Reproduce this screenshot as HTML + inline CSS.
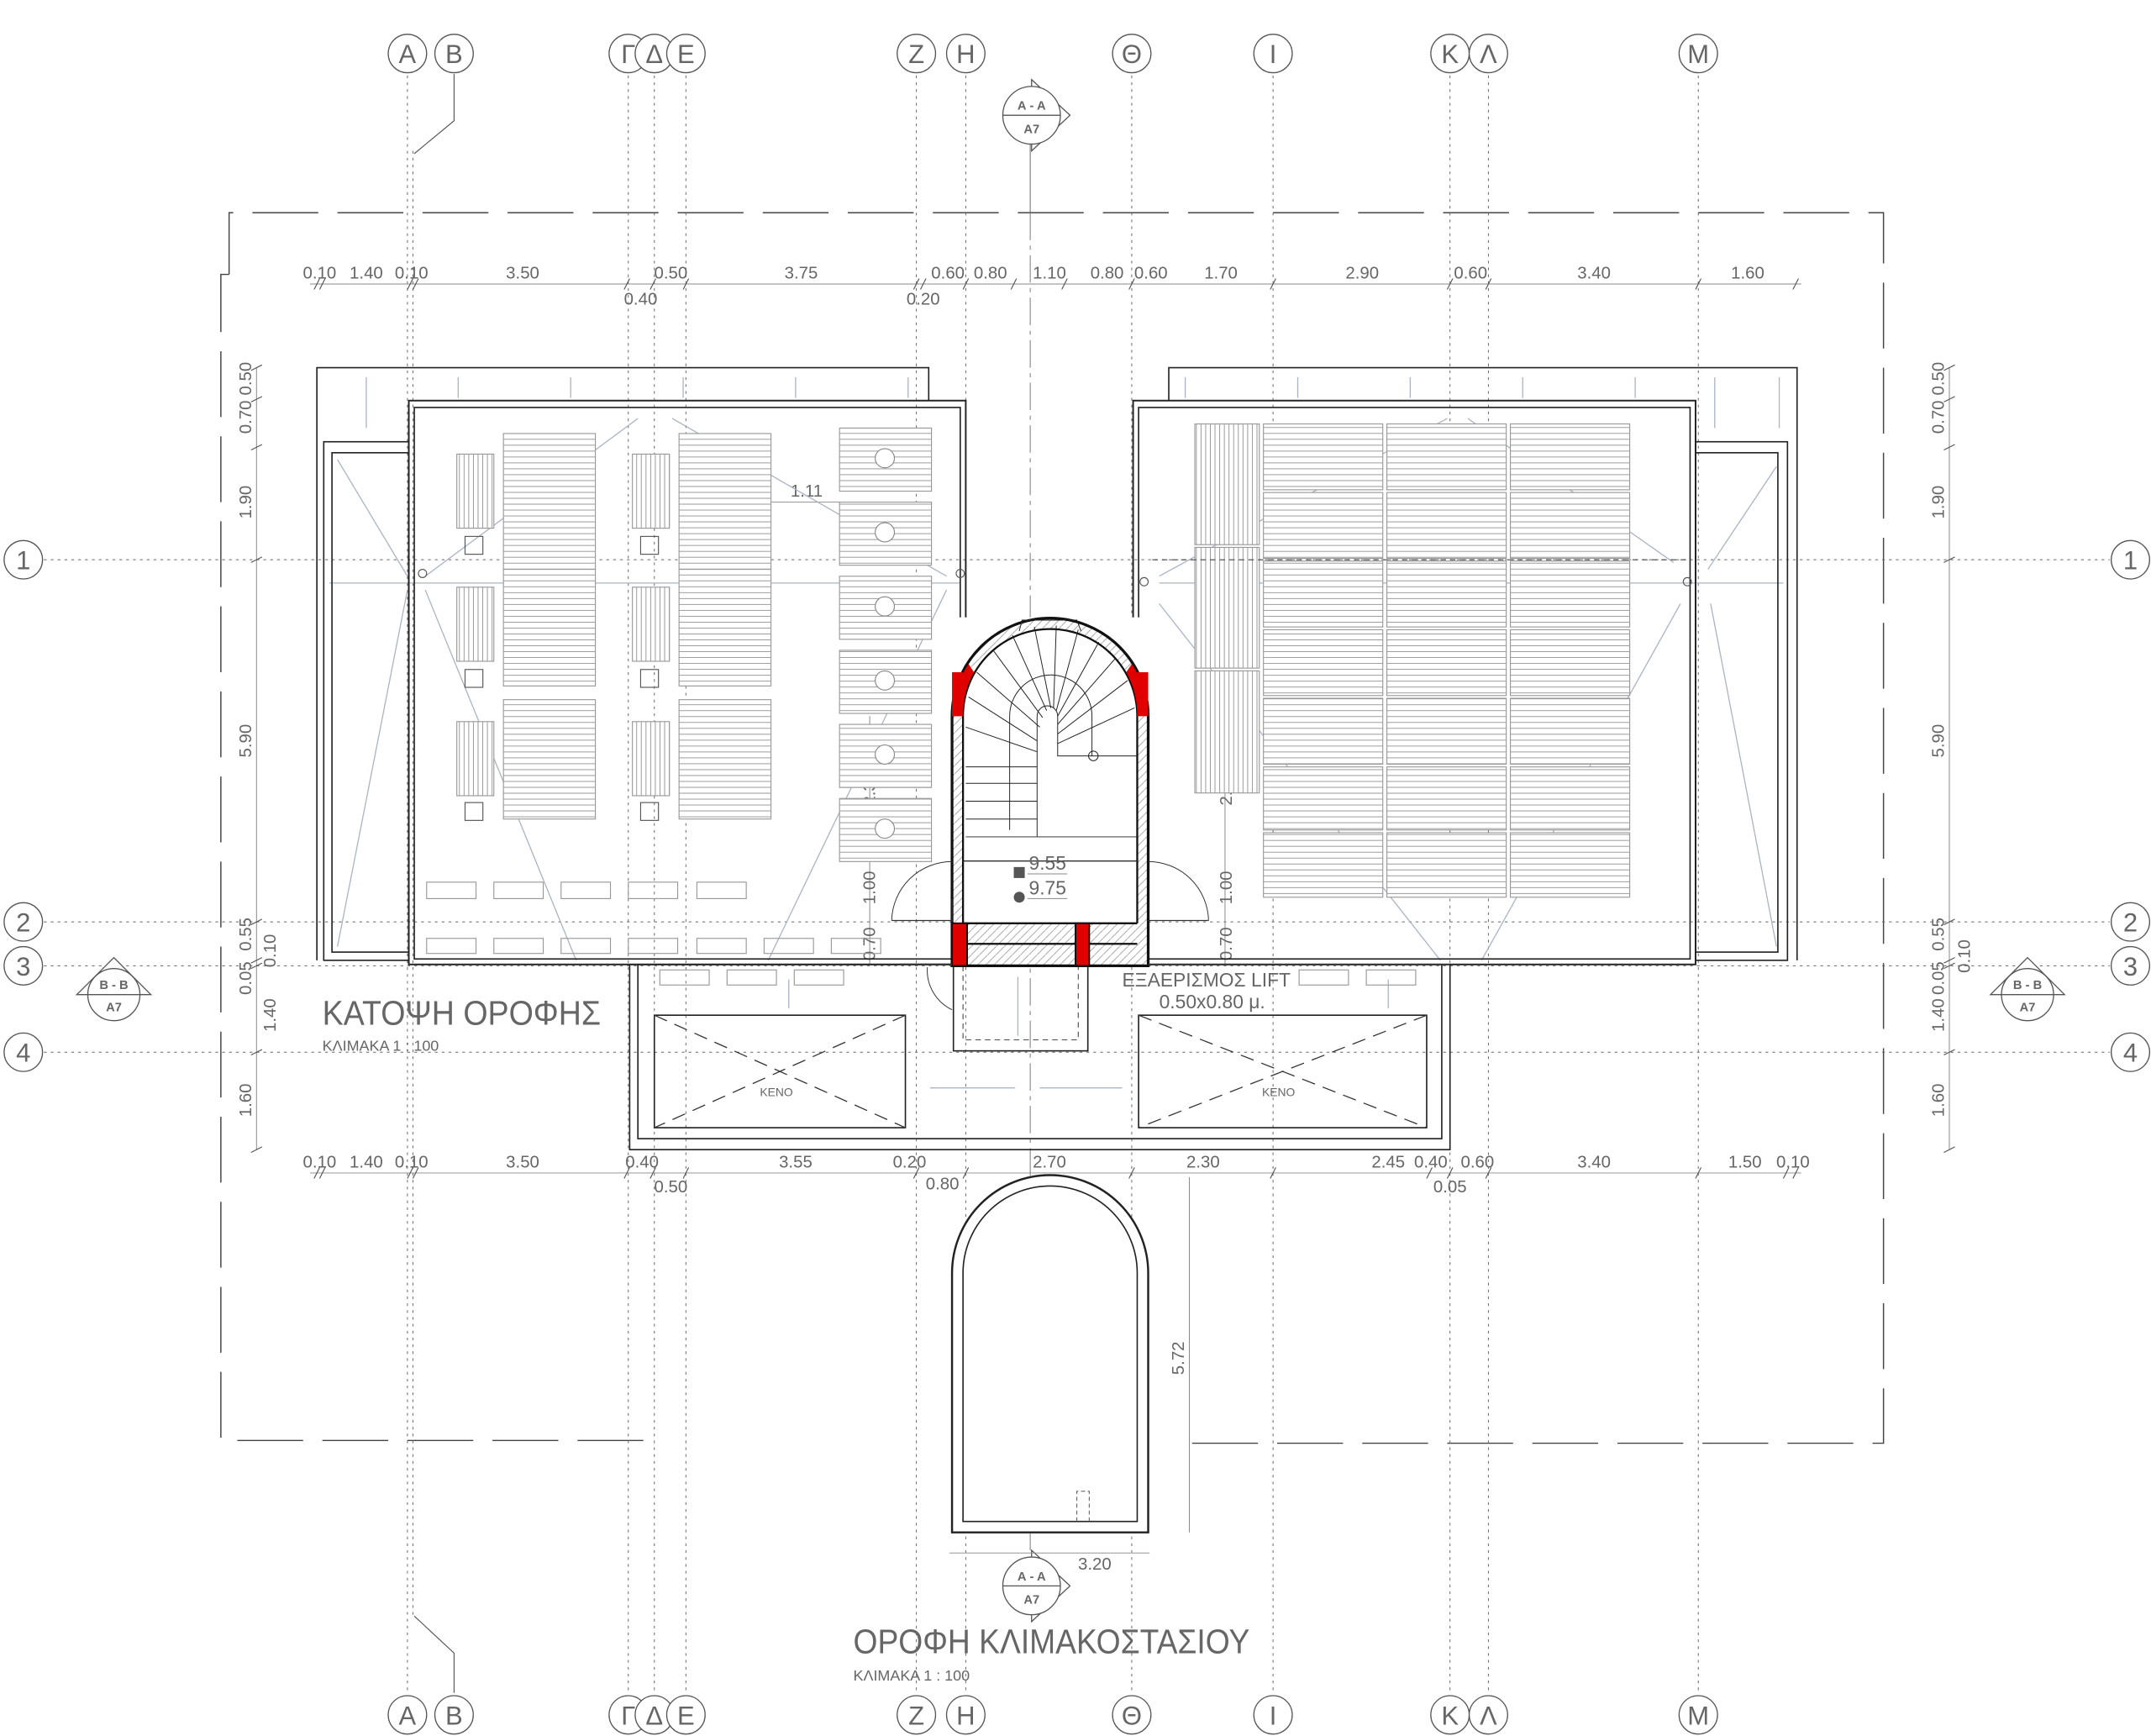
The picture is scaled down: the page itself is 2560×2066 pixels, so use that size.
<!DOCTYPE html>
<html><head><meta charset="utf-8"><style>
html,body{margin:0;padding:0;background:#fff}
svg{display:block}
text{font-family:"Liberation Sans","DejaVu Sans",sans-serif;fill:#666}
</style></head><body>
<svg width="2560" height="2066" viewBox="0 0 1568 1265.4" xmlns="http://www.w3.org/2000/svg">
<defs>
<pattern id="hs" patternUnits="userSpaceOnUse" width="8" height="4.3"><rect width="8" height="4.3" fill="#fff"/><line x1="0" y1="2" x2="8" y2="2" stroke="#999" stroke-width="0.6"/></pattern>
<pattern id="vs" patternUnits="userSpaceOnUse" width="3.4" height="8"><rect width="3.4" height="8" fill="#fff"/><line x1="1.7" y1="0" x2="1.7" y2="8" stroke="#999" stroke-width="0.6"/></pattern>
<pattern id="hatch" patternUnits="userSpaceOnUse" width="6" height="6"><line x1="0" y1="6" x2="6" y2="0" stroke="#999" stroke-width="0.5"/></pattern>
</defs>
<rect width="1568" height="1265.4" fill="#fff"/>

<g fill="none" stroke="#444" stroke-width="0.9" stroke-dasharray="48 14">
<polyline points="167,200 167,155 1373,155 1373,1052 858,1052"/>
<polyline points="167,200 161,200 161,1050 470,1050"/>
</g>

<g stroke="#666" stroke-width="0.6" stroke-dasharray="2 3" fill="none">
<line x1="297" y1="55" x2="297" y2="1234"/><line x1="301" y1="110" x2="301" y2="1180"/>
<line x1="458" y1="55" x2="458" y2="1234"/><line x1="477" y1="55" x2="477" y2="1234"/><line x1="500" y1="55" x2="500" y2="1234"/>
<line x1="668" y1="55" x2="668" y2="1234"/><line x1="704" y1="55" x2="704" y2="1234"/>
<line x1="825" y1="55" x2="825" y2="1234"/><line x1="928" y1="55" x2="928" y2="1234"/>
<line x1="1057" y1="55" x2="1057" y2="1234"/><line x1="1085" y1="55" x2="1085" y2="1234"/><line x1="1238" y1="55" x2="1238" y2="1234"/>
<line x1="32" y1="408" x2="1538" y2="408"/><line x1="32" y1="672" x2="1538" y2="672"/>
<line x1="32" y1="704" x2="1538" y2="704"/><line x1="32" y1="767" x2="1538" y2="767"/>
</g>
<line x1="751" y1="100" x2="751" y2="155" stroke="#666" stroke-width="0.6"/>
<line x1="751" y1="155" x2="751" y2="1130" stroke="#777" stroke-width="0.6" stroke-dasharray="20 4 3 4"/>
<polyline points="331,54 331,88 302,112" fill="none" stroke="#555" stroke-width="0.7"/>
<polyline points="331,1234 331,1205 302,1178" fill="none" stroke="#555" stroke-width="0.7"/>

<g fill="#fff" stroke="#555" stroke-width="0.8">
<circle cx="297" cy="39" r="14"/><circle cx="331" cy="39" r="14"/><circle cx="458" cy="39" r="14"/><circle cx="477" cy="39" r="14"/><circle cx="500" cy="39" r="14"/><circle cx="668" cy="39" r="14"/><circle cx="704" cy="39" r="14"/><circle cx="825" cy="39" r="14"/><circle cx="928" cy="39" r="14"/><circle cx="1057" cy="39" r="14"/><circle cx="1085" cy="39" r="14"/><circle cx="1238" cy="39" r="14"/>
<circle cx="297" cy="1250" r="14"/><circle cx="331" cy="1250" r="14"/><circle cx="458" cy="1250" r="14"/><circle cx="477" cy="1250" r="14"/><circle cx="500" cy="1250" r="14"/><circle cx="668" cy="1250" r="14"/><circle cx="704" cy="1250" r="14"/><circle cx="825" cy="1250" r="14"/><circle cx="928" cy="1250" r="14"/><circle cx="1057" cy="1250" r="14"/><circle cx="1085" cy="1250" r="14"/><circle cx="1238" cy="1250" r="14"/>
<circle cx="17" cy="408" r="14"/><circle cx="17" cy="672" r="14"/><circle cx="17" cy="704" r="14"/><circle cx="17" cy="767" r="14"/>
<circle cx="1553" cy="408" r="14"/><circle cx="1553" cy="672" r="14"/><circle cx="1553" cy="704" r="14"/><circle cx="1553" cy="767" r="14"/>
</g>
<g font-size="19" text-anchor="middle">
<text x="297" y="46">Α</text><text x="331" y="46">Β</text><text x="458" y="46">Γ</text><text x="477" y="46">Δ</text><text x="500" y="46">Ε</text><text x="668" y="46">Ζ</text><text x="704" y="46">Η</text><text x="825" y="46">Θ</text><text x="928" y="46">Ι</text><text x="1057" y="46">Κ</text><text x="1085" y="46">Λ</text><text x="1238" y="46">Μ</text>
<text x="297" y="1257">Α</text><text x="331" y="1257">Β</text><text x="458" y="1257">Γ</text><text x="477" y="1257">Δ</text><text x="500" y="1257">Ε</text><text x="668" y="1257">Ζ</text><text x="704" y="1257">Η</text><text x="825" y="1257">Θ</text><text x="928" y="1257">Ι</text><text x="1057" y="1257">Κ</text><text x="1085" y="1257">Λ</text><text x="1238" y="1257">Μ</text>
<text x="17" y="415">1</text><text x="17" y="679">2</text><text x="17" y="711">3</text><text x="17" y="774">4</text>
<text x="1553" y="415">1</text><text x="1553" y="679">2</text><text x="1553" y="711">3</text><text x="1553" y="774">4</text>
</g>

<g stroke="#555" stroke-width="0.8" fill="#fff">
<polygon points="752,58 780,84 752,110"/><circle cx="752" cy="84" r="21"/><line x1="731" y1="84" x2="773" y2="84"/>
<polygon points="752,1130 780,1156 752,1182"/><circle cx="752" cy="1156" r="21"/><line x1="731" y1="1156" x2="773" y2="1156"/>
<polygon points="56,725 83,698 110,725"/><circle cx="83" cy="725" r="19"/><line x1="64" y1="725" x2="102" y2="725"/>
<polygon points="1451,725 1478,698 1505,725"/><circle cx="1478" cy="725" r="19"/><line x1="1459" y1="725" x2="1497" y2="725"/>
</g>
<g font-size="9" text-anchor="middle" style="font-weight:bold">
<text x="752" y="80">Α - Α</text><text x="752" y="97">Α7</text>
<text x="752" y="1152">Α - Α</text><text x="752" y="1169">Α7</text>
<text x="83" y="721">Β - Β</text><text x="83" y="737">Α7</text>
<text x="1478" y="721">Β - Β</text><text x="1478" y="737">Α7</text>
</g>

<g stroke="#888" stroke-width="0.6" fill="none">
<line x1="226" y1="207" x2="1313" y2="207"/>
<line x1="226" y1="855" x2="1313" y2="855"/>
<line x1="187" y1="268" x2="187" y2="838"/>
<line x1="1421" y1="268" x2="1421" y2="838"/>
<line x1="634" y1="522" x2="634" y2="703"/>
<line x1="893" y1="522" x2="893" y2="703"/>
<line x1="867" y1="858" x2="867" y2="1117"/>
<line x1="692" y1="1132" x2="838" y2="1132"/>
<line x1="560" y1="366" x2="617" y2="366"/>
</g>
<g stroke="#555" stroke-width="0.7">
<path d="M229,211l4,-8M233,211l4,-8M297,211l4,-8M301,211l4,-8M455,211l4,-8M474,211l4,-8M498,211l4,-8M666,211l4,-8M671,211l4,-8M702,211l4,-8M737,211l4,-8M774,211l4,-8M823,211l4,-8M926,211l4,-8M1055,211l4,-8M1083,211l4,-8M1236,211l4,-8M1307,211l4,-8"/>
<path d="M229,859l4,-8M233,859l4,-8M297,859l4,-8M301,859l4,-8M455,859l4,-8M474,859l4,-8M498,859l4,-8M666,859l4,-8M702,859l4,-8M823,859l4,-8M926,859l4,-8M1040,859l4,-8M1055,859l4,-8M1083,859l4,-8M1236,859l4,-8M1300,859l4,-8M1307,859l4,-8"/>
<path d="M183,270l8,-4M183,293l8,-4M183,328l8,-4M183,410l8,-4M183,674l8,-4M183,702l8,-4M183,706l8,-4M183,769l8,-4M183,840l8,-4"/>
<path d="M1417,270l8,-4M1417,293l8,-4M1417,328l8,-4M1417,410l8,-4M1417,674l8,-4M1417,702l8,-4M1417,706l8,-4M1417,769l8,-4M1417,840l8,-4"/>
</g>
<g font-size="12.5" text-anchor="middle">
<text x="233" y="203">0.10</text><text x="267" y="203">1.40</text><text x="300" y="203">0.10</text><text x="381" y="203">3.50</text><text x="489" y="203">0.50</text><text x="584" y="203">3.75</text><text x="691" y="203">0.60</text><text x="722" y="203">0.80</text><text x="765" y="203">1.10</text><text x="807" y="203">0.80</text><text x="839" y="203">0.60</text><text x="890" y="203">1.70</text><text x="993" y="203">2.90</text><text x="1072" y="203">0.60</text><text x="1162" y="203">3.40</text><text x="1274" y="203">1.60</text>
<text x="467" y="222">0.40</text><text x="673" y="222">0.20</text>
<text x="233" y="851">0.10</text><text x="267" y="851">1.40</text><text x="300" y="851">0.10</text><text x="381" y="851">3.50</text><text x="468" y="851">0.40</text><text x="580" y="851">3.55</text><text x="663" y="851">0.20</text><text x="765" y="851">2.70</text><text x="877" y="851">2.30</text><text x="1012" y="851">2.45</text><text x="1043" y="851">0.40</text><text x="1077" y="851">0.60</text><text x="1162" y="851">3.40</text><text x="1272" y="851">1.50</text><text x="1307" y="851">0.10</text>
<text x="489" y="869">0.50</text><text x="687" y="867">0.80</text><text x="1057" y="869">0.05</text>
<text x="588" y="362">1.11</text>
<text x="798" y="1144">3.20</text>
</g>
<g font-size="12.5" text-anchor="middle">
<text transform="translate(183,276) rotate(-90)">0.50</text><text transform="translate(183,304) rotate(-90)">0.70</text><text transform="translate(183,366) rotate(-90)">1.90</text><text transform="translate(183,540) rotate(-90)">5.90</text><text transform="translate(183,681) rotate(-90)">0.55</text><text transform="translate(201,693) rotate(-90)">0.10</text><text transform="translate(183,713) rotate(-90)">0.05</text><text transform="translate(201,740) rotate(-90)">1.40</text><text transform="translate(183,802) rotate(-90)">1.60</text>
<text transform="translate(1417,276) rotate(-90)">0.50</text><text transform="translate(1417,304) rotate(-90)">0.70</text><text transform="translate(1417,366) rotate(-90)">1.90</text><text transform="translate(1417,540) rotate(-90)">5.90</text><text transform="translate(1417,681) rotate(-90)">0.55</text><text transform="translate(1436,697) rotate(-90)">0.10</text><text transform="translate(1417,713) rotate(-90)">0.05</text><text transform="translate(1417,740) rotate(-90)">1.40</text><text transform="translate(1417,802) rotate(-90)">1.60</text>
<text transform="translate(638,575) rotate(-90)">2.35</text><text transform="translate(638,647) rotate(-90)">1.00</text><text transform="translate(638,688) rotate(-90)">0.70</text>
<text transform="translate(898,575) rotate(-90)">2.35</text><text transform="translate(898,647) rotate(-90)">1.00</text><text transform="translate(898,688) rotate(-90)">0.70</text>
<text transform="translate(863,990) rotate(-90)">5.72</text>
</g>

<g stroke="#aab4c4" stroke-width="0.8" fill="none">
<line x1="246" y1="335" x2="297" y2="420"/><line x1="246" y1="690" x2="297" y2="430"/>
<line x1="465" y1="305" x2="310" y2="420"/><line x1="490" y1="305" x2="690" y2="420"/>
<line x1="310" y1="430" x2="420" y2="700"/><line x1="690" y1="430" x2="560" y2="700"/>
<line x1="240" y1="425" x2="700" y2="425"/><line x1="845" y1="425" x2="1300" y2="425"/>
<line x1="1055" y1="305" x2="845" y2="420"/><line x1="1070" y1="305" x2="1220" y2="410"/>
<line x1="845" y1="440" x2="1050" y2="700"/><line x1="1225" y1="440" x2="1080" y2="700"/>
<line x1="1295" y1="340" x2="1245" y2="415"/><line x1="1295" y1="690" x2="1247" y2="440"/>
<line x1="267" y1="275" x2="267" y2="312"/><line x1="334" y1="275" x2="334" y2="290"/><line x1="416" y1="275" x2="416" y2="290"/><line x1="498" y1="275" x2="498" y2="290"/><line x1="580" y1="275" x2="580" y2="290"/><line x1="662" y1="275" x2="662" y2="290"/>
<line x1="864" y1="275" x2="864" y2="290"/><line x1="946" y1="275" x2="946" y2="290"/><line x1="1028" y1="275" x2="1028" y2="290"/><line x1="1110" y1="275" x2="1110" y2="290"/><line x1="1192" y1="275" x2="1192" y2="290"/><line x1="1250" y1="275" x2="1250" y2="312"/><line x1="1297" y1="275" x2="1297" y2="312"/>
<line x1="710" y1="910" x2="825" y2="895"/><line x1="710" y1="920" x2="825" y2="1105"/>
<line x1="678" y1="793" x2="740" y2="793"/><line x1="758" y1="793" x2="818" y2="793"/>
<line x1="742" y1="712" x2="742" y2="755"/><line x1="575" y1="714" x2="575" y2="735"/><line x1="1012" y1="714" x2="1012" y2="735"/>
</g>

<g fill="none" stroke="#222" stroke-width="1">
<polyline points="231,700 231,268 677,268 677,292"/>
<rect x="236" y="322" width="62" height="378"/>
<rect x="242" y="330" width="56" height="364"/>
<rect x="298" y="292" width="406" height="411" stroke-width="1.2"/>
<rect x="302" y="297" width="398" height="402"/>
<rect x="826" y="292" width="410" height="411" stroke-width="1.2"/>
<rect x="830" y="297" width="402" height="402"/>
<polyline points="852,292 852,268 1310,268 1310,700"/>
<rect x="1236" y="322" width="67" height="378"/>
<rect x="1236" y="330" width="60" height="364"/>
<rect x="459" y="703" width="598" height="135"/>
<rect x="465" y="703" width="586" height="127"/>
<rect x="477" y="740" width="183" height="82"/>
<rect x="830" y="740" width="210" height="82"/>
<rect x="695" y="703" width="98" height="63"/>
</g>
<g stroke="#333" stroke-width="0.8" stroke-dasharray="10 6" fill="none">
<line x1="477" y1="740" x2="660" y2="822"/><line x1="660" y1="740" x2="477" y2="822"/>
<line x1="830" y1="740" x2="1040" y2="822"/><line x1="1040" y1="740" x2="830" y2="822"/>
<rect x="702" y="703" width="84" height="55" stroke-dasharray="4 3" stroke-width="0.6"/>
</g>
<g font-size="8.5" text-anchor="middle"><text x="566" y="799">ΚΕΝΟ</text><text x="932" y="799">ΚΕΝΟ</text></g>

<g stroke="#999" stroke-width="0.7">
<rect x="367" y="316" width="67" height="99" fill="url(#hs)"/><rect x="367" y="415" width="67" height="85" fill="url(#hs)"/><rect x="367" y="510" width="67" height="87" fill="url(#hs)"/>
<rect x="495" y="316" width="67" height="99" fill="url(#hs)"/><rect x="495" y="415" width="67" height="85" fill="url(#hs)"/><rect x="495" y="510" width="67" height="87" fill="url(#hs)"/>
<rect x="333" y="331" width="27" height="54" fill="url(#vs)"/><rect x="333" y="428" width="27" height="54" fill="url(#vs)"/><rect x="333" y="526" width="27" height="54" fill="url(#vs)"/>
<rect x="461" y="331" width="27" height="54" fill="url(#vs)"/><rect x="461" y="428" width="27" height="54" fill="url(#vs)"/><rect x="461" y="526" width="27" height="54" fill="url(#vs)"/>
<rect x="612" y="312" width="67" height="46" fill="url(#hs)"/><rect x="612" y="366" width="67" height="46" fill="url(#hs)"/><rect x="612" y="420" width="67" height="46" fill="url(#hs)"/><rect x="612" y="474" width="67" height="46" fill="url(#hs)"/><rect x="612" y="528" width="67" height="46" fill="url(#hs)"/><rect x="612" y="582" width="67" height="46" fill="url(#hs)"/>
</g>
<g fill="#fff" stroke="#888" stroke-width="0.7">
<circle cx="645" cy="334" r="7"/><circle cx="645" cy="388" r="7"/><circle cx="645" cy="442" r="7"/><circle cx="645" cy="496" r="7"/><circle cx="645" cy="550" r="7"/><circle cx="645" cy="604" r="7"/>
</g>
<g fill="none" stroke="#555" stroke-width="0.7">
<rect x="339" y="391" width="13" height="13"/><rect x="339" y="488" width="13" height="13"/><rect x="339" y="585" width="13" height="13"/>
<rect x="467" y="391" width="13" height="13"/><rect x="467" y="488" width="13" height="13"/><rect x="467" y="585" width="13" height="13"/>
<circle cx="308" cy="418" r="3"/><circle cx="700" cy="418" r="3"/><circle cx="834" cy="424" r="3"/><circle cx="1230" cy="424" r="3"/>
</g>
<g fill="none" stroke="#999" stroke-width="0.7">
<rect x="311" y="643" width="36" height="12"/><rect x="360" y="643" width="36" height="12"/><rect x="409" y="643" width="36" height="12"/><rect x="458" y="643" width="36" height="12"/><rect x="508" y="643" width="36" height="12"/>
<rect x="311" y="684" width="36" height="11"/><rect x="360" y="684" width="36" height="11"/><rect x="409" y="684" width="36" height="11"/><rect x="458" y="684" width="36" height="11"/><rect x="508" y="684" width="36" height="11"/><rect x="557" y="684" width="36" height="11"/><rect x="606" y="684" width="36" height="11"/>
<rect x="481" y="707" width="36" height="11"/><rect x="530" y="707" width="36" height="11"/><rect x="579" y="707" width="36" height="11"/><rect x="947" y="707" width="36" height="11"/><rect x="996" y="707" width="36" height="11"/>
</g>

<g stroke="#999" stroke-width="0.7">
<rect x="871" y="309" width="47" height="88" fill="url(#vs)"/><rect x="871" y="399" width="47" height="88" fill="url(#vs)"/><rect x="871" y="489" width="47" height="89" fill="url(#vs)"/>
<rect x="921" y="309" width="87" height="48" fill="url(#hs)"/><rect x="1011" y="309" width="87" height="48" fill="url(#hs)"/><rect x="1101" y="309" width="87" height="48" fill="url(#hs)"/>
<rect x="921" y="359" width="87" height="48" fill="url(#hs)"/><rect x="1011" y="359" width="87" height="48" fill="url(#hs)"/><rect x="1101" y="359" width="87" height="48" fill="url(#hs)"/>
<rect x="921" y="409" width="87" height="48" fill="url(#hs)"/><rect x="1011" y="409" width="87" height="48" fill="url(#hs)"/><rect x="1101" y="409" width="87" height="48" fill="url(#hs)"/>
<rect x="921" y="459" width="87" height="48" fill="url(#hs)"/><rect x="1011" y="459" width="87" height="48" fill="url(#hs)"/><rect x="1101" y="459" width="87" height="48" fill="url(#hs)"/>
<rect x="921" y="509" width="87" height="48" fill="url(#hs)"/><rect x="1011" y="509" width="87" height="48" fill="url(#hs)"/><rect x="1101" y="509" width="87" height="48" fill="url(#hs)"/>
<rect x="921" y="559" width="87" height="46" fill="url(#hs)"/><rect x="1011" y="559" width="87" height="46" fill="url(#hs)"/><rect x="1101" y="559" width="87" height="46" fill="url(#hs)"/>
<rect x="921" y="607" width="87" height="47" fill="url(#hs)"/><rect x="1011" y="607" width="87" height="47" fill="url(#hs)"/><rect x="1101" y="607" width="87" height="47" fill="url(#hs)"/>
</g>
<line x1="840" y1="408" x2="1230" y2="408" stroke="#444" stroke-width="0.7" stroke-dasharray="4 3"/>

<rect x="694" y="450" width="143" height="254" fill="#fff"/>
<path d="M694,704 L694,522 A71.5,71.5 0 0 1 837,522 L837,704 Z" fill="url(#hatch)" stroke="#111" stroke-width="2"/>
<path d="M702,696 L702,522 A63.5,63.5 0 0 1 829,522 L829,628 L702,628 Z" fill="#fff" stroke="#111" stroke-width="1.4"/>
<rect x="702" y="628" width="127" height="45" fill="#fff"/>
<line x1="702" y1="628" x2="702" y2="673" stroke="#111" stroke-width="1.4"/>
<line x1="829" y1="628" x2="829" y2="673" stroke="#111" stroke-width="1.4"/>
<path d="M702,673 L829,673 M702,688 L829,688" stroke="#111" stroke-width="1.4"/>
<path d="M694,490 L702,490 L702,522 L694,522 Z" fill="#e00000"/>
<path d="M829,490 L837,490 L837,522 L829,522 Z" fill="#e00000"/>
<path d="M706,484 A71.5,71.5 0 0 0 694,522 L702,522 A63.5,63.5 0 0 1 710,490 Z" fill="#e00000"/>
<path d="M825,484 A71.5,71.5 0 0 1 837,522 L829,522 A63.5,63.5 0 0 0 821,490 Z" fill="#e00000"/>
<rect x="694" y="673" width="11" height="31" fill="#e00000" stroke="#111" stroke-width="1.2"/>
<rect x="784" y="673" width="10" height="31" fill="#e00000" stroke="#111" stroke-width="1.2"/>
<g stroke="#222" stroke-width="0.6" fill="none">
<path d="M756,610 L756,522 A7.5,7.5 0 0 1 771,522 L771,551 L829,551"/>
<line x1="756" y1="610" x2="829" y2="610"/>
<line x1="704" y1="559" x2="756" y2="559"/><line x1="704" y1="571" x2="756" y2="571"/><line x1="704" y1="584" x2="756" y2="584"/><line x1="704" y1="597" x2="756" y2="597"/><line x1="704" y1="610" x2="756" y2="610"/>
<path d="M756,548 L704,530 M756,540 L706,508 M758,530 L712,490 M760,523 L724,474 M763,518 L738,463 M766,516 L754,457 M768,516 L770,456 M770,518 L786,459 M771,522 L801,468 M771,528 L813,480 M771,535 L822,496 M771,542 L827,516"/>
<path d="M743,460 L745,452 L785,452 L788,460"/>
<path d="M736,522 A30,30 0 0 1 796,522 L796,551"/>
<line x1="736" y1="522" x2="736" y2="605"/>
<circle cx="797" cy="551" r="3.5"/>
</g>
<path d="M694,672 L694,655 M650,671 A44,44 0 0 1 694,628" fill="none" stroke="#333" stroke-width="0.6"/>
<path d="M837,628 A44,44 0 0 1 881,671" fill="none" stroke="#333" stroke-width="0.6"/>
<line x1="650" y1="671" x2="694" y2="671" stroke="#333" stroke-width="0.8"/>
<line x1="837" y1="671" x2="881" y2="671" stroke="#333" stroke-width="0.8"/>
<path d="M676,705 A32,32 0 0 0 694,736" fill="none" stroke="#333" stroke-width="0.6"/>
<line x1="656" y1="703" x2="694" y2="703" stroke="#333" stroke-width="1.2"/>
<line x1="837" y1="703" x2="1057" y2="703" stroke="#333" stroke-width="1"/>
<g font-size="14">
<text x="750" y="634">9.55</text><text x="750" y="652">9.75</text>
<text x="818" y="719">ΕΞΑΕΡΙΣΜΟΣ LIFT</text><text x="845" y="735">0.50x0.80 μ.</text>
<text x="752" y="1008">12.10</text><text x="752" y="1026">12.20</text>
</g>
<g stroke="#888" stroke-width="0.6"><line x1="749" y1="637" x2="778" y2="637"/><line x1="749" y1="655" x2="778" y2="655"/><line x1="751" y1="1011" x2="788" y2="1011"/><line x1="751" y1="1029" x2="788" y2="1029"/></g>
<rect x="739" y="632" width="8" height="8" fill="#555"/><circle cx="743" cy="654" r="4" fill="#555"/>
<rect x="741" y="1006" width="8" height="8" fill="#555"/><circle cx="745" cy="1028" r="4" fill="#555"/>

<path d="M694,1117 L694,928 A71.5,71.5 0 0 1 837,928 L837,1117 Z" fill="#fff" stroke="#222" stroke-width="1.5"/>
<path d="M702,1109 L702,928 A63.5,63.5 0 0 1 829,928 L829,1109 Z" fill="none" stroke="#222" stroke-width="1"/>
<path d="M785,1109 L785,1087 L794,1087 L794,1109" fill="none" stroke="#555" stroke-width="0.6" stroke-dasharray="3 2"/>

<text x="235" y="747" font-size="25" textLength="203" lengthAdjust="spacingAndGlyphs">ΚΑΤΟΨΗ ΟΡΟΦΗΣ</text>
<text x="235" y="766" font-size="11">ΚΛΙΜΑΚΑ 1 : 100</text>
<text x="622" y="1205" font-size="25" textLength="289" lengthAdjust="spacingAndGlyphs">ΟΡΟΦΗ ΚΛΙΜΑΚΟΣΤΑΣΙΟΥ</text>
<text x="622" y="1225" font-size="11">ΚΛΙΜΑΚΑ 1 : 100</text>
</svg>
</body></html>
